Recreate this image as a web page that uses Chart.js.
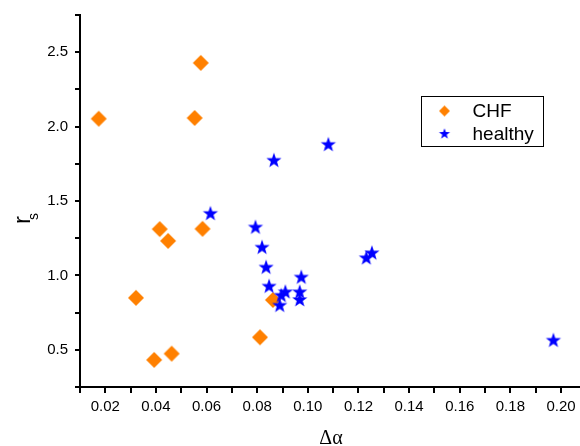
<!DOCTYPE html>
<html><head><meta charset="utf-8">
<script src="https://cdn.jsdelivr.net/npm/chart.js@4"></script>
<style>html,body{margin:0;padding:0;background:#fff;overflow:hidden}</style>
</head><body>
<canvas id="c" width="580" height="446"></canvas>
<script>
const seriesNames = ['CHF', 'healthy'];
const chfX = [0.0174, 0.0577, 0.0553, 0.0415, 0.0448, 0.0584, 0.0321, 0.0393, 0.0462, 0.0811, 0.0862];
const chfY = [2.053, 2.428, 2.058, 1.311, 1.232, 1.313, 0.849, 0.432, 0.474, 0.584, 0.835];
const healthyX = [0.1081, 0.0866, 0.0615, 0.0793, 0.0819, 0.0835, 0.0974, 0.0847, 0.0911, 0.0968, 0.0895, 0.0968, 0.0889, 0.1231, 0.1253, 0.1970];
const healthyY = [1.878, 1.771, 1.414, 1.322, 1.187, 1.053, 0.986, 0.925, 0.887, 0.887, 0.864, 0.835, 0.797, 1.116, 1.149, 0.562];
const xTickValues = [0.01,0.02,0.03,0.04,0.05,0.06,0.07,0.08,0.09,0.10,0.11,0.12,0.13,0.14,0.15,0.16,0.17,0.18,0.19,0.20];
const xTickLabels = ['','0.02','','0.04','','0.06','','0.08','','0.10','','0.12','','0.14','','0.16','','0.18','','0.20'];
const yTickValues = [0.25,0.5,0.75,1.0,1.25,1.5,1.75,2.0,2.25,2.5,2.75];
const yTickLabels = ['','0.5','','1.0','','1.5','','2.0','','2.5',''];
const xTitle = 'Δα';
const yTitleMain = 'r';
const yTitleSub = 's';
const xRange = [0.01, 0.2075];
const yRange = [0.25, 2.75];

const ORANGE = '#FF8000', BLUE = '#0000FF';

function makeDiamond(r, color) {
  const s = Math.ceil(2 * r + 2);
  const c = document.createElement('canvas'); c.width = c.height = s;
  const g = c.getContext('2d'); const m = s / 2;
  g.fillStyle = color; g.beginPath();
  g.moveTo(m, m - r); g.lineTo(m + r, m); g.lineTo(m, m + r); g.lineTo(m - r, m);
  g.closePath(); g.fill();
  return c;
}
function makeStar(R, color) {
  const s = Math.ceil(2 * R + 2);
  const c = document.createElement('canvas'); c.width = c.height = s;
  const g = c.getContext('2d'); const m = s / 2; const ri = R * 0.40;
  g.fillStyle = color; g.beginPath();
  for (let i = 0; i < 10; i++) {
    const a = -Math.PI / 2 + i * Math.PI / 5;
    const rr = i % 2 ? ri : R;
    const px = m + rr * Math.cos(a), py = m + rr * Math.sin(a);
    if (i === 0) g.moveTo(px, py); else g.lineTo(px, py);
  }
  g.closePath(); g.fill();
  return c;
}
const diamondImg = makeDiamond(8, ORANGE);
const starImg = makeStar(8, BLUE);
const legDiamond = makeDiamond(5.5, ORANGE);
const legStar = makeStar(5.8, BLUE);

const annot = {
  id: 'annot',
  afterDraw(chart) {
    const ctx = chart.ctx; const a = chart.chartArea;
    ctx.save();
    ctx.fillStyle = '#000';
    ctx.font = '20px "Liberation Serif"'; ctx.textAlign = 'center'; ctx.textBaseline = 'alphabetic';
    ctx.fillText(xTitle, (a.left + a.right) / 2 + 1, 444);
    ctx.textAlign = 'left';
    ctx.save(); ctx.translate(29.5, 224); ctx.rotate(-Math.PI / 2);
    ctx.font = '24px "Liberation Sans"'; ctx.fillText(yTitleMain, 0, 0); ctx.restore();
    ctx.save(); ctx.translate(37.5, 220); ctx.rotate(-Math.PI / 2);
    ctx.font = '14px "Liberation Sans"'; ctx.fillText(yTitleSub, 0, 0); ctx.restore();
    // legend
    ctx.lineWidth = 1; ctx.strokeStyle = '#000';
    ctx.strokeRect(421.5, 96.5, 122, 50);
    ctx.drawImage(legDiamond, 444.5 - legDiamond.width / 2, 111 - legDiamond.height / 2);
    ctx.drawImage(legStar, 444.5 - legStar.width / 2, 134 - legStar.height / 2);
    ctx.font = '19px "Liberation Sans"';
    ctx.fillText(seriesNames[0], 472.5, 117);
    ctx.fillText(seriesNames[1], 472.5, 140);
    ctx.restore();
  }
};

new Chart(document.getElementById('c'), {
  type: 'scatter',
  data: {
    datasets: [
      { label: seriesNames[0], data: chfX.map((x, i) => ({ x, y: chfY[i] })), pointStyle: diamondImg, pointRadius: 8, order: 2 },
      { label: seriesNames[1], data: healthyX.map((x, i) => ({ x, y: healthyY[i] })), pointStyle: starImg, pointRadius: 8, order: 1 }
    ]
  },
  options: {
    responsive: false, animation: false, events: [], devicePixelRatio: 1,
    layout: { autoPadding: false, padding: { top: 15, right: 0, left: 0, bottom: 0 } },
    plugins: { legend: { display: false }, tooltip: { enabled: false } },
    scales: {
      x: {
        type: 'linear', min: xRange[0], max: xRange[1],
        afterBuildTicks: s => { s.ticks = xTickValues.map(v => ({ value: v })); },
        afterFit: s => { s.height = 59; s.paddingRight = 0; s.paddingLeft = 0; },
        ticks: { autoSkip: false, maxRotation: 0, minRotation: 0, padding: 5, color: '#000',
          font: { family: '"Liberation Sans"', size: 15 },
          callback: (v, i) => xTickLabels[i] },
        grid: { display: true, drawOnChartArea: false, drawTicks: true, tickLength: 6, color: '#000', lineWidth: 2 },
        border: { display: true, color: '#000', width: 2 }
      },
      y: {
        type: 'linear', min: yRange[0], max: yRange[1],
        afterBuildTicks: s => { s.ticks = yTickValues.map(v => ({ value: v })); },
        afterFit: s => { s.width = 80; s.paddingTop = 0; s.paddingBottom = 0; },
        ticks: { autoSkip: false, padding: 7, color: '#000',
          font: { family: '"Liberation Sans"', size: 15 },
          callback: (v, i) => yTickLabels[i] },
        grid: { display: true, drawOnChartArea: false, drawTicks: true, tickLength: 5, color: '#000', lineWidth: 2 },
        border: { display: true, color: '#000', width: 2 }
      }
    }
  },
  plugins: [annot]
});
</script>
</body></html>
